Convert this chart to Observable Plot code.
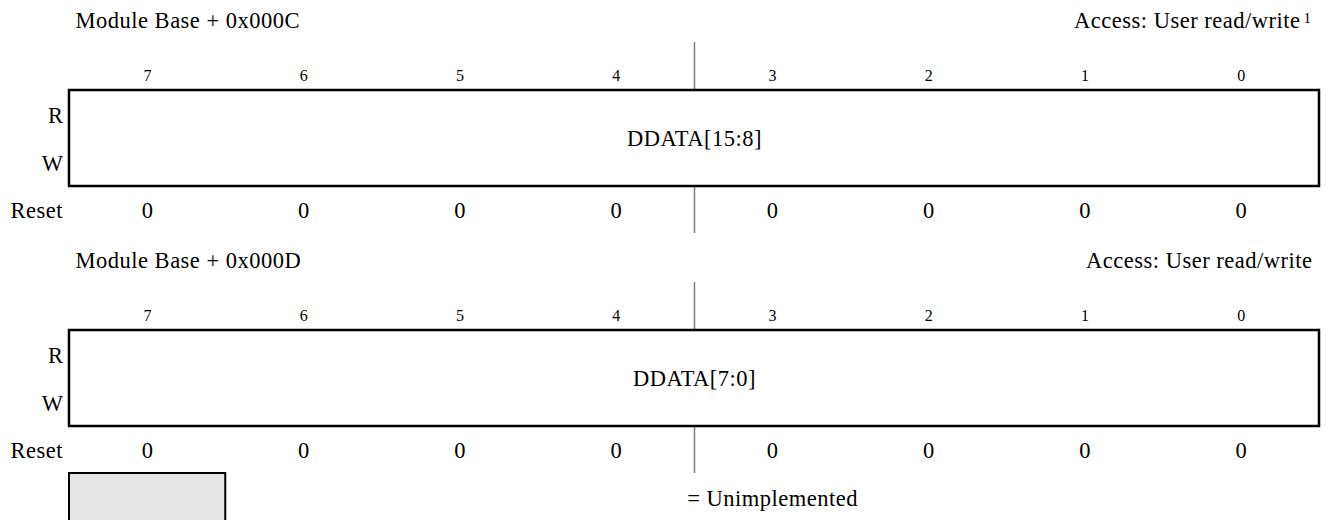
<!DOCTYPE html>
<html>
<head>
<meta charset="utf-8">
<script src="https://cdn.jsdelivr.net/npm/d3@7"></script>
<script src="https://cdn.jsdelivr.net/npm/@observablehq/plot@0.6"></script>
<style>
  html, body { margin: 0; padding: 0; background: #fff; }
  #chart svg { display: block; }
  #chart svg text { font-family: "Liberation Serif", "Times New Roman", serif; letter-spacing: 0.5px; }
</style>
</head>
<body>
<div id="chart"></div>
<script>
// ---- data ----
const registerAddresses = ["Module Base + 0x000C", "Module Base + 0x000D"];
const accessLabels = ["Access: User read/write", "Access: User read/write"];
const accessNotes = ["1", ""];
const bits = [7, 6, 5, 4, 3, 2, 1, 0];
const fieldNames = ["DDATA[15:8]", "DDATA[7:0]"];
const rowLabels = ["R", "W"];
const resetLabel = "Reset";
const resetValues = [
  [0, 0, 0, 0, 0, 0, 0, 0],
  [0, 0, 0, 0, 0, 0, 0, 0]
];
const legendLabel = "= Unimplemented";

// ---- layout (pixels, not data) ----
const FONT = "'Liberation Serif', 'Times New Roman', serif";
const REG_STEP = 240;
const L = {
  header: 27, bitNum: 80, boxTop: 90, boxBottom: 186,
  r: 122, w: 170, field: 145, reset: 217,
  divTop: 42, divBottom: 233,
  legendTop: 473, legendBottom: 540, legendText: 505
};
const BIG = 22.5, SMALL = 16;
const T = {fontFamily: FONT, lineAnchor: "bottom"};

const marks = registerAddresses.flatMap((addr, r) => {
  const o = r * REG_STEP;
  const accessDx = accessNotes[r] ? -19 : -7;
  return [
    Plot.text([addr], {...T, x: () => 8, y: () => o + L.header, text: d => d, dx: 6,
      textAnchor: "start", fontSize: BIG}),
    Plot.text([accessLabels[r]], {...T, x: () => 0, y: () => o + L.header, text: d => d, dx: accessDx,
      textAnchor: "end", fontSize: BIG}),
    Plot.text(accessNotes[r] ? [accessNotes[r]] : [], {...T, x: () => 0, y: () => o + L.header - 5, text: d => d, dx: -16,
      textAnchor: "start", fontSize: 15}),
    Plot.text(bits, {...T, x: b => b + 0.5, y: () => o + L.bitNum, text: b => String(b),
      textAnchor: "middle", fontSize: SMALL}),
    Plot.ruleX([4], {x: d => d, y1: () => o + L.divTop, y2: () => o + L.boxTop, stroke: "#808080", strokeWidth: 1.5}),
    Plot.ruleX([4], {x: d => d, y1: () => o + L.boxBottom, y2: () => o + L.divBottom, stroke: "#808080", strokeWidth: 1.5}),
    Plot.rect([fieldNames[r]], {x1: () => 8, x2: () => 0, y1: () => o + L.boxTop, y2: () => o + L.boxBottom,
      fill: "white", stroke: "black", strokeWidth: 2.5}),
    Plot.text([fieldNames[r]], {...T, x: () => 4, y: () => o + L.field, text: d => d,
      textAnchor: "middle", fontSize: BIG}),
    Plot.text(rowLabels, {...T, x: () => 8, y: (d, i) => o + (i === 0 ? L.r : L.w), text: d => d, dx: -6,
      textAnchor: "end", fontSize: BIG}),
    Plot.text([resetLabel], {...T, x: () => 8, y: () => o + L.reset, text: d => d, dx: -59,
      textAnchor: "start", fontSize: BIG}),
    Plot.text(resetValues[r], {...T, x: (v, i) => bits[i] + 0.5, y: () => o + L.reset, text: v => String(v),
      textAnchor: "middle", fontSize: BIG})
  ];
});

// legend (unimplemented swatch)
marks.push(
  Plot.rect(["unimplemented"], {x1: () => 8, x2: () => 7, y1: () => L.legendTop, y2: () => L.legendBottom,
    fill: "#e6e6e6", stroke: "black", strokeWidth: 2}),
  Plot.text([legendLabel], {...T, x: () => 3.5, y: () => L.legendText, text: d => d,
    textAnchor: "middle", fontSize: BIG})
);

const chart = Plot.plot({
  width: 1329,
  height: 520,
  margin: 0,
  x: {type: "linear", domain: [8, 0], range: [69, 1319], axis: null},
  y: {type: "linear", domain: [0, 520], range: [0, 520], axis: null},
  style: {fontFamily: FONT, color: "black", background: "white", overflow: "hidden"},
  marks
});
document.getElementById("chart").appendChild(chart);
</script>
</body>
</html>
